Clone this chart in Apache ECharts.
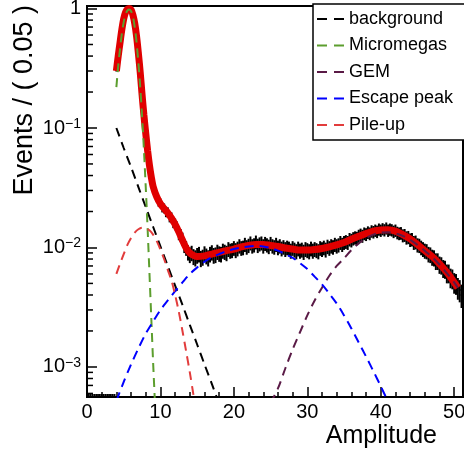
<!DOCTYPE html>
<html><head><meta charset="utf-8">
<script src="https://cdn.jsdelivr.net/npm/echarts@6/dist/echarts.min.js"></script>
<style>html,body{margin:0;padding:0;background:#fff}#c{width:464px;height:456px}</style>
</head><body><div id="c"></div>
<script>
// ---- data ----
const binStart = 0, binWidth = 0.25;
const dataVals = [
0,0,0,0,0,0,0,0,0,0,0,0,0,0,0,0,
0.305,0.405,0.528,0.668,0.815,0.925,0.975,0.995,0.972,0.885,0.745,0.585,0.418,0.292,0.188,0.131,
0.0885,0.0652,0.0486,0.0392,0.0316,0.0291,0.0262,0.0241,0.0236,0.0217,0.0213,0.0199,0.0197,0.0181,0.0178,0.0163,
0.0157,0.0148,0.0131,0.0127,0.0118,0.0104,0.0099,0.0091,
0.0087,0.0090,0.0084,0.0082,0.0086,0.0088,0.0081,0.0083,0.0089,0.0085,0.0082,0.0088,0.0091,0.0086,0.0087,0.0092,
0.0089,0.0088,0.0094,0.0092,0.0090,0.0097,0.0094,0.0095,0.0099,0.0095,0.0098,0.0103,0.0099,0.0100,0.0106,0.0101,
0.0104,0.0109,0.0103,0.0105,0.0111,0.0104,0.0107,0.0109,0.0103,0.0108,0.0105,0.0102,0.0108,0.0103,0.0101,0.0106,
0.0100,0.0103,0.0098,0.0101,0.0097,0.0100,0.0098,0.0094,0.0099,0.0096,0.0093,0.0098,0.0094,0.0096,0.0092,0.0097,
0.0095,0.0093,0.0098,0.0094,0.0097,0.0095,0.0093,0.0099,0.0097,0.0100,0.0096,0.0102,0.0099,0.0103,0.0101,0.0106,
0.0103,0.0105,0.0110,0.0106,0.0110,0.0112,0.0110,0.0117,0.0115,0.0119,0.0121,0.0120,0.0125,0.0128,0.0125,0.0131,
0.0129,0.0134,0.0131,0.0137,0.0135,0.0139,0.0136,0.0142,0.0139,0.0143,0.0140,0.0145,0.0139,0.0142,0.0140,0.0136,
0.0139,0.0133,0.0131,0.0132,0.0126,0.0127,0.0121,0.0122,0.0116,0.0117,0.0110,0.0111,0.0105,0.0104,0.0100,0.0097,
0.0094,0.0093,0.0088,0.0087,0.0083,0.0082,0.0077,0.0077,0.0072,0.0071,0.0067,0.0066,0.0061,0.0061,0.0056,0.0055,
0.0051,0.0050,0.0046,0.0044,0.0040
];
const totalFit = [[4,0.30],[4.25,0.40],[4.5,0.52],[4.75,0.67],[5,0.82],[5.25,0.93],[5.5,0.985],[5.75,1.0],[6,0.975],[6.25,0.885],[6.5,0.75],[6.75,0.585],[7,0.42],[7.25,0.29],[7.5,0.19],[7.75,0.128],[8,0.09],[8.25,0.065],[8.5,0.049],[8.75,0.039],[9,0.0325],[9.5,0.0265],[10,0.0232],[10.5,0.0212],[11,0.0195],[11.5,0.0176],[12,0.0156],[12.5,0.0135],[13,0.0115],[13.5,0.0099],[14,0.0090],[14.5,0.0086],[15,0.0084],[16,0.0085],[17,0.0088],[18,0.0091],[19,0.0094],[20,0.0097],[21,0.0101],[22,0.0104],[23,0.0106],[24,0.0106],[25,0.0104],[26,0.0102],[27,0.0099],[28,0.0097],[29,0.0095],[30,0.0095],[31,0.0096],[32,0.0098],[33,0.0101],[34,0.0105],[35,0.0110],[36,0.0117],[37,0.0124],[38,0.0131],[39,0.0137],[40,0.0140],[41,0.0141],[42,0.0137],[43,0.0128],[44,0.0118],[45,0.0106],[46,0.0094],[47,0.0084],[48,0.0073],[49,0.0062],[50,0.0051],[50.5,0.0046]];
const background = [[4,0.100],[5,0.068],[6,0.047],[7,0.032],[8,0.0218],[9,0.0149],[10,0.0102],[11,0.0070],[12,0.0048],[13,0.0033],[14,0.00225],[15,0.00154],[16,0.00105],[17,0.00072],[18,0.00049]];
const micromegas = [[4,0.22],[4.25,0.33],[4.5,0.46],[4.75,0.62],[5,0.77],[5.25,0.89],[5.5,0.96],[5.75,0.98],[6,0.95],[6.25,0.86],[6.5,0.70],[6.75,0.52],[7,0.35],[7.25,0.22],[7.5,0.125],[7.75,0.066],[8,0.032],[8.25,0.0145],[8.5,0.0062],[8.75,0.0026],[9,0.0011],[9.25,0.0005],[9.5,0.0002]];
const gem = [[25,0.0005],[26,0.00066],[27,0.00097],[28,0.0014],[29,0.00195],[30,0.0027],[31,0.0036],[32,0.0046],[33,0.0058],[34,0.0070],[35,0.0081],[36,0.0095],[37,0.0108],[38,0.0120],[39,0.0128],[40,0.0133],[41,0.0134],[42,0.0131],[43,0.0125],[44,0.0116],[45,0.0105],[46,0.0094],[47,0.0083],[48,0.0072],[49,0.0061],[50,0.0051],[50.5,0.0046]];
const escapePeak = [[4,0.00052],[5,0.00075],[6,0.00105],[7,0.00143],[8,0.0019],[9,0.0024],[10,0.0030],[11,0.0036],[12,0.0043],[13,0.0051],[14,0.0060],[15,0.0068],[16,0.0076],[17,0.0083],[18,0.0088],[19,0.0093],[20,0.0097],[21,0.0100],[22,0.0102],[23,0.0103],[24,0.0102],[25,0.0099],[26,0.0094],[27,0.0088],[28,0.0082],[29,0.0074],[30,0.0066],[31,0.0057],[32,0.0049],[33,0.0041],[34,0.0034],[35,0.0027],[36,0.0021],[37,0.0016],[38,0.00122],[39,0.00092],[40,0.00069],[41,0.00051]];
const pileUp = [[4,0.0060],[4.5,0.0073],[5,0.0088],[5.5,0.0105],[6,0.0120],[6.5,0.0133],[7,0.0142],[7.5,0.0146],[8,0.0145],[8.5,0.0139],[9,0.0128],[9.5,0.0113],[10,0.0096],[10.5,0.0080],[11,0.0065],[11.5,0.0053],[12,0.0040],[12.5,0.0029],[13,0.0020],[13.5,0.00135],[14,0.00090],[14.5,0.00058],[15,0.00038]];
const yMinorTicks = [6e-4,7e-4,8e-4,9e-4,2e-3,3e-3,4e-3,5e-3,6e-3,7e-3,8e-3,9e-3,2e-2,3e-2,4e-2,5e-2,6e-2,7e-2,8e-2,9e-2,0.2,0.3,0.4,0.5,0.6,0.7,0.8,0.9];
const xRange = [0, 51.2];
const yRange = [5.6e-4, 1.05];
const legendNames = ['background','Micromegas','GEM','Escape peak','Pile-up'];

// ---- chart ----
const FONT = 'Liberation Sans, Arial, Helvetica, sans-serif';
const chart = echarts.init(document.getElementById('c'), null, {renderer:'canvas'});
const dataPoints = dataVals.map((v,i)=>[binStart + binWidth*i, v]);
function dashed(name, data, color){
  return {name, type:'line', data, symbol:'none', smooth:0.3, z:5, clip:true,
    lineStyle:{color, width:2, type:[9,6]}, itemStyle:{color}};
}
const option = {
  animation:false,
  backgroundColor:'#fff',
  grid:{left:87, top:6, right:1, bottom:59, show:true, borderColor:'#000', borderWidth:2, backgroundColor:'transparent',
    containLabel:false, outerBoundsMode:'none'},
  legend:{
    data:legendNames, orient:'vertical', left:313, top:4,
    padding:[6,14,6,4], itemWidth:27, itemHeight:2, itemGap:8.5,
    icon:'path://M0,0h10v2h-10zM17,0h10v2h-10z',
    borderColor:'#000', borderWidth:1.5, backgroundColor:'#fff',
    textStyle:{fontFamily:FONT, fontSize:18, color:'#000', lineHeight:18}, selectedMode:false
  },
  xAxis:{type:'value', min:xRange[0], max:xRange[1], interval:10,
    name:'Amplitude', nameLocation:'end', nameGap:-26,
    nameTextStyle:{fontFamily:FONT, fontSize:25, color:'#000', align:'right', verticalAlign:'top', padding:[27,0,0,0]},
    axisLine:{lineStyle:{color:'#000', width:2}},
    axisTick:{inside:true, length:10, lineStyle:{color:'#000', width:1.5}},
    minorTick:{show:true, splitNumber:5, length:5, lineStyle:{color:'#000', width:1.5}},
    splitLine:{show:false}, minorSplitLine:{show:false},
    axisLabel:{fontFamily:FONT, fontSize:20, color:'#000', margin:5,
      formatter:v=> (Math.abs(v/10 - Math.round(v/10))<1e-9 ? String(v) : '')}
  },
  yAxis:{type:'log', logBase:10, min:yRange[0], max:yRange[1],
    name:'Events / ( 0.05 )', nameLocation:'end', nameRotate:90, nameGap:1,
    nameTextStyle:{fontFamily:FONT, fontSize:27, color:'#000', align:'right', verticalAlign:'bottom', padding:[0,0,49,0]},
    axisLine:{lineStyle:{color:'#000', width:2}},
    axisTick:{inside:true, length:10, lineStyle:{color:'#000', width:1.5}},
    splitLine:{show:false},
    axisLabel:{fontFamily:FONT, color:'#000', margin:6, showMinLabel:false, showMaxLabel:false,
      formatter:v=>{ const l=Math.log10(v), e=Math.round(l); if(Math.abs(l-e)>1e-6) return ''; if(e===0) return '{b|1}'; return '{b|10}{s|\u2212'+(-e)+'}'; },
      rich:{b:{fontFamily:FONT, fontSize:20, color:'#000'}, s:{fontFamily:FONT, fontSize:14, color:'#000', verticalAlign:'top', padding:[0,0,8,0]}}}
  },
  series:[
    {name:'data', type:'custom', clip:true, z:2, data:dataPoints,
      renderItem:(params, api)=>{
        const x=api.value(0), v=api.value(1);
        if(!(v>0)){
          const a=api.coord([x-binWidth/2, yRange[0]]), b=api.coord([x+binWidth/2, yRange[0]]);
          return {type:'line', shape:{x1:a[0],y1:a[1]-1.5,x2:b[0],y2:b[1]-1.5}, style:{stroke:'#000', lineWidth:3}};
        }
        const e = 0.014/Math.sqrt(v);
        const c=api.coord([x,v]), lo=api.coord([x,v*(1-e)]), hi=api.coord([x,v*(1+e)]);
        const l=api.coord([x-binWidth/2,v]), r=api.coord([x+binWidth/2,v]);
        return {type:'group', children:[
          {type:'line', shape:{x1:c[0],y1:lo[1],x2:c[0],y2:hi[1]}, style:{stroke:'#000', lineWidth:2}},
          {type:'line', shape:{x1:l[0],y1:c[1],x2:r[0],y2:c[1]}, style:{stroke:'#000', lineWidth:2}}
        ]};
      }},
    {name:'total', type:'line', data:totalFit, symbol:'none', smooth:0.3, z:3, clip:true,
      lineStyle:{color:'#e00000', width:7}},
    dashed('background', background, '#000000'),
    dashed('Micromegas', micromegas, '#5c9e2e'),
    dashed('GEM', gem, '#5a1a46'),
    dashed('Escape peak', escapePeak, '#0000ff'),
    dashed('Pile-up', pileUp, '#e23c3c'),
    {name:'yminor', type:'custom', z:6, clip:false, silent:true, data:yMinorTicks.map(v=>[xRange[0], v]),
      renderItem:(params, api)=>{
        const p=api.coord([api.value(0), api.value(1)]);
        return {type:'line', shape:{x1:p[0],y1:p[1],x2:p[0]+6,y2:p[1]}, style:{stroke:'#000', lineWidth:1.5}};
      }}
  ]
};
chart.setOption(option);
</script>
</body></html>
